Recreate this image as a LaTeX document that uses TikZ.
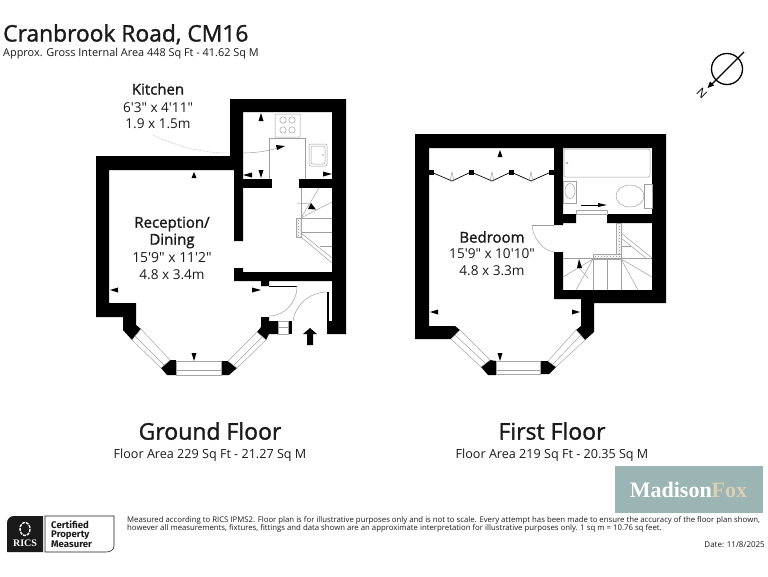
\documentclass[tikz,border=0pt]{standalone}
\usepackage{fontspec}
\newfontfamily\plainfont{Open Sans}
\newfontfamily\headfont[FakeBold=1.4]{Open Sans}
\newfontfamily\ricsfont{Fira Sans}
\newfontfamily\logofont{Liberation Serif}
\usepackage{tikz}
\usetikzlibrary{patterns}
\definecolor{logoteal}{HTML}{9AB5B3}
\definecolor{logosand}{HTML}{DCCFB5}
\definecolor{inktext}{HTML}{1A1A1A}
\tikzset{
  wall/.style={fill=black},
  thinline/.style={draw=gray!75, line width=0.5pt},
  winline/.style={draw=gray!70, line width=0.5pt, fill=white},
  hatchbox/.style={draw=gray!70, line width=0.4pt, pattern=crosshatch dots, pattern color=gray},
  marker/.style={fill=black},
  roomname/.style={font=\headfont\fontsize{15}{15}\selectfont, text=inktext, inner sep=0pt},
  roomsize/.style={font=\plainfont\fontsize{13.6}{13.6}\selectfont, text=inktext, inner sep=0pt},
  floorname/.style={font=\headfont\fontsize{23}{23}\selectfont, text=inktext, inner sep=0pt},
  floorarea/.style={font=\plainfont\fontsize{12.6}{12.6}\selectfont, text=inktext, inner sep=0pt},
  smallprint/.style={font=\plainfont\fontsize{7.78}{7.78}\selectfont, text=inktext, inner sep=0pt, anchor=base west},
  ricsline/.style={font=\ricsfont\bfseries\fontsize{9.6}{9.6}\selectfont, text=inktext, inner sep=0pt, anchor=west}
}
\begin{document}
\begin{tikzpicture}[x=1pt,y=-1pt]
\useasboundingbox (0,0) rectangle (768,576);

\node[font=\headfont\fontsize{22.8}{22.8}\selectfont, text=inktext, inner sep=0pt, anchor=base west] (nodeTitle) at (3,41.5) {Cranbrook Road, CM16};
\node[font=\plainfont\fontsize{10.9}{10.9}\selectfont, text=inktext, inner sep=0pt, anchor=base west] (nodeArea) at (3,56.5) {Approx. Gross Internal Area 448 Sq Ft - 41.62 Sq M};

% ground floor
\fill[wall] (230,99) -- (346,99) -- (346,334) -- (327,334) -- (327,321) -- (332,321) -- (332,112) -- (243,112) -- (243,241) -- (234,241) -- (234,170) -- (109,170) -- (109,303) -- (136,303) -- (136,325) -- (141,329) -- (132,340) -- (123,330) -- (123,317) -- (96,317) -- (96,156) -- (230,156) -- cycle;
\fill[wall] (243,179) rectangle (272,188);
\fill[wall] (299,179) rectangle (332,188);
\fill[wall] (234,268) -- (243,268) -- (243,272) -- (332,272) -- (332,281) -- (269,281) -- (269,286) -- (261,286) -- (261,281) -- (234,281) -- cycle;
\fill[wall] (161,368) -- (170,360) -- (176,360) -- (176,375) -- (167,375) -- cycle;
\fill[wall] (221,361) -- (228,361) -- (237,368) -- (229,375) -- (221,375) -- cycle;
\fill[wall] (257,332) -- (261,327) -- (261,317) -- (269,317) -- (269,321) -- (278,321) -- (278,334) -- (269,334) -- (266,340) -- cycle;
\fill[wall] (288,321) rectangle (292,334);
\fill[wall] (327,292) rectangle (329,321);

\path[winline] (141,329) -- (132,340) -- (161,368) -- (170,360) -- cycle;
\path[thinline] (135,336) -- (164,365);
\path[winline] (176,361) rectangle (221,375);
\path[thinline] (176,370) -- (221,370);
\path[winline] (228,361) -- (237,368) -- (266,340) -- (257,332) -- cycle;
\path[thinline] (234,365) -- (262,337);
\path[winline] (278,321) rectangle (288,334);
\path[thinline] (278,327) -- (288,327);

\path[draw, line width=0.8pt] (269,286) -- (297,286);
\path[thinline] (297,286) .. controls (297,302) and (285,316) .. (269,316);
\path[thinline] (293,321) .. controls (295,305) and (310,292) .. (327,292);

\fill[marker] (310,328) -- (317,334) -- (313,334) -- (313,345) -- (307,345) -- (307,334) -- (303,334) -- cycle;

\fill[marker] (194,172) -- (196.5,178) -- (191.5,178) -- cycle;
\fill[marker] (261,113) -- (263.5,121) -- (258.5,121) -- cycle;
\fill[marker] (243,175) -- (252,172.5) -- (252,177.5) -- cycle;
\fill[marker] (261,178) -- (258.5,170) -- (263.5,170) -- cycle;
\fill[marker] (332,174) -- (323,171.5) -- (323,176.5) -- cycle;
\fill[marker] (110,290) -- (118,287.5) -- (118,292.5) -- cycle;
\fill[marker] (261,290) -- (252,287.5) -- (252,292.5) -- cycle;
\fill[marker] (194,361) -- (191.5,353) -- (196.5,353) -- cycle;

% kitchen fittings
\path[thinline, rounded corners=0.5pt] (275,114) rectangle (300,137);
\path[thinline] (283,120) circle (3.2);
\path[thinline] (292,120) circle (3.2);
\path[thinline] (283,130) circle (3.2);
\path[thinline] (292,130) circle (3.2);
\path[thinline] (269,179) -- (269,138) -- (305,138) -- (305,179);
\path[thinline, rounded corners=2pt] (309,144) rectangle (327,166);
\path[thinline, rounded corners=2pt] (311,146) rectangle (325,164);
\path[thinline] (323,155) circle (0.6);

\path[thinline, densely dotted] (153,135) .. controls (180,148) and (205,153) .. (229,153);
\path[thinline] (243,153) .. controls (255,153) and (268,151) .. (278,148);
\fill[marker] (285,146) -- (276,145) -- (277,150) -- cycle;

% ground floor stairs
\path[thinline] (301,188) -- (301,218);
\path[thinline] (319,188) -- (301,218) -- (332,202);
\path[thinline] (301,218) -- (332,218);
\path[thinline] (301,232) -- (332,232);
\path[thinline] (301,233) -- (332,258);
\path[thinline] (301,237) -- (332,263);
\path[thinline] (320,246) -- (332,246);
\path[thinline] (297,203) -- (311,204);
\path[hatchbox] (296,218) rectangle (301,237);
\fill[marker] (311,203) -- (308,209) -- (316,209.5) -- cycle;

% first floor
\fill[wall] (415,134) -- (666,134) -- (666,303) -- (594,303) -- (594,332) -- (585,340) -- (576,330) -- (581,326) -- (581,299) -- (554,299) -- (554,252) -- (563,252) -- (563,290) -- (652,290) -- (652,223) -- (607,223) -- (607,214) -- (652,214) -- (652,148) -- (563,148) -- (563,214) -- (576,214) -- (576,223) -- (563,223) -- (563,225) -- (554,225) -- (554,148) -- (429,148) -- (429,326) -- (455,326) -- (460,330) -- (451,339) -- (415,339) -- cycle;
\fill[wall] (481,367) -- (490,360) -- (496,361) -- (496,375) -- (488,375) -- cycle;
\fill[wall] (540,361) -- (548,361) -- (556,367) -- (549,374) -- (540,374) -- cycle;

\path[winline] (460,330) -- (451,339) -- (481,367) -- (490,360) -- cycle;
\path[thinline] (455,335) -- (485,363);
\path[winline] (496,361) rectangle (540,374);
\path[thinline] (496,370) -- (540,370);
\path[winline] (548,361) -- (556,367) -- (585,340) -- (576,330) -- cycle;
\path[thinline] (553,364) -- (581,335);

\fill[marker] (500,150) -- (502.5,157) -- (497.5,157) -- cycle;
\fill[marker] (430,312) -- (438,309.5) -- (438,314.5) -- cycle;
\fill[marker] (580,312) -- (572,309.5) -- (572,314.5) -- cycle;
\fill[marker] (500,361) -- (497.5,353) -- (502.5,353) -- cycle;

% folding doors
\path[draw, line width=0.7pt] (431,172) -- (452,181) -- (471,172) -- (492,181) -- (511,172) -- (531,181) -- (551,172);
\path[thinline] (450,181) -- (452,172) -- (454,181);
\path[thinline] (490,181) -- (492,172) -- (494,181);
\path[thinline] (529,181) -- (531,172) -- (533,181);
\fill[black] (429,169.5) rectangle (434,174.5);
\fill[black] (468.5,169.5) rectangle (473.5,174.5);
\fill[black] (508.5,169.5) rectangle (513.5,174.5);
\fill[black] (549,169.5) rectangle (554,174.5);

% bathroom
\path[thinline, rounded corners=2pt] (564,149) rectangle (650,177);
\path[thinline] (567,163) circle (0.9);
\path[thinline] (563,181) rectangle (576,203);
\path[thinline] (570,191) ellipse (5 and 7.5);
\path[thinline] (630,196) ellipse (14 and 11);
\path[thinline] (644,184) rectangle (652,208);
\path[winline] (576,210) rectangle (607,214);
\path[draw, line width=0.6pt] (581,205) -- (598,205);
\fill[marker] (607,205) -- (598,203) -- (598,207) -- cycle;

% first floor door
\path[thinline] (532,225) -- (554,225);
\path[thinline] (532,225) .. controls (533,238) and (542,250) .. (554,252);

% first floor stairs
\path[thinline] (563,258) -- (652,258);
\path[thinline] (563,277) -- (593,259) -- (576,290);
\path[thinline] (593,259) -- (593,290);
\path[thinline] (607,259) -- (607,290);
\path[thinline] (621,259) -- (621,290);
\path[thinline] (638,290) -- (621,259) -- (652,277);
\path[thinline] (621,233) -- (652,258);
\path[thinline] (621,238) -- (646,258);
\path[thinline] (621,246) -- (631,246);
\path[thinline] (579,268) -- (588,278);
\path[hatchbox] (616,223) rectangle (621,254);
\path[hatchbox] (593,254) rectangle (621,259);
\fill[marker] (579,259) -- (582,268) -- (577,268) -- cycle;

% north sign
\path[draw, line width=1.3pt] (727,69) circle (15.5);
\path[draw, line width=1.2pt] (744,52) -- (712,84);
\fill[marker] (707.5,88) -- (710,81.5) -- (714,85.5) -- cycle;
\node[font=\plainfont\fontsize{12}{12}\selectfont, inner sep=0pt, rotate=135] (nodeNorth) at (702,93) {N};

% labels
\node[roomname] (nodeKitchen) at (158,89) {Kitchen};
\node[roomsize] (nodeKitchenA) at (158,108) {6'3" x 4'11"};
\node[roomsize] (nodeKitchenB) at (158,124) {1.9 x 1.5m};
\node[roomname] (nodeReception) at (172,224) {Reception/};
\node[roomname] (nodeDining) at (172,241) {Dining};
\node[roomsize, font=\plainfont\fontsize{13.9}{13.9}\selectfont] (nodeReceptionA) at (172,258) {15'9" x 11'2"};
\node[roomsize] (nodeReceptionB) at (172,275) {4.8 x 3.4m};
\node[roomname] (nodeBedroom) at (492,237) {Bedroom};
\node[roomsize] (nodeBedroomA) at (492,254) {15'9" x 10'10"};
\node[roomsize] (nodeBedroomB) at (492,271) {4.8 x 3.3m};

\node[floorname] (nodeGround) at (210,431) {Ground Floor};
\node[floorarea] (nodeGroundArea) at (210,455) {Floor Area 229 Sq Ft - 21.27 Sq M};
\node[floorname] (nodeFirst) at (552,431) {First Floor};
\node[floorarea] (nodeFirstArea) at (552,455) {Floor Area 219 Sq Ft - 20.35 Sq M};

% logo
\fill[logoteal] (615,466) rectangle (763,513);
\node[font=\logofont\bfseries\fontsize{22}{22}\selectfont, inner sep=0pt, anchor=base] (nodeLogo) at (688.5,497) {\textcolor{white}{Madison}\textcolor{logosand}{Fox}};

% rics badge
\fill[inktext] (7,552) -- (7,523) .. controls (7,519) and (10,516) .. (14,516) -- (43,516) -- (43,552) -- cycle;
\path[draw=white, line width=1.4pt, dash pattern=on 3pt off 1pt] (25,529) ellipse (5 and 6.5);
\node[font=\logofont\bfseries\fontsize{10}{10}\selectfont, text=white, inner sep=0pt] (nodeRics) at (25,543) {RICS};
\path[draw=inktext, line width=0.6pt] (45,516) -- (114,516) -- (114,546) .. controls (114,550) and (110,552) .. (106,552) -- (45,552) -- cycle;
\node[ricsline] (nodeCert) at (51,525) {Certified};
\node[ricsline] (nodeProp) at (51,535) {Property};
\node[ricsline] (nodeMeas) at (51,544) {Measurer};

% small print
\node[smallprint] (nodeSmallA) at (127,522) {Measured according to RICS IPMS2. Floor plan is for illustrative purposes only and is not to scale. Every attempt has been made to ensure the accuracy of the floor plan shown,};
\node[smallprint] (nodeSmallB) at (127,530) {however all measurements, fixtures, fittings and data shown are an approximate interpretation for illustrative purposes only. 1 sq m = 10.76 sq feet.};
\node[font=\plainfont\fontsize{8}{8}\selectfont, text=inktext, inner sep=0pt, anchor=base east] (nodeDate) at (765,547) {Date: 11/8/2025};
\end{tikzpicture}
\end{document}
